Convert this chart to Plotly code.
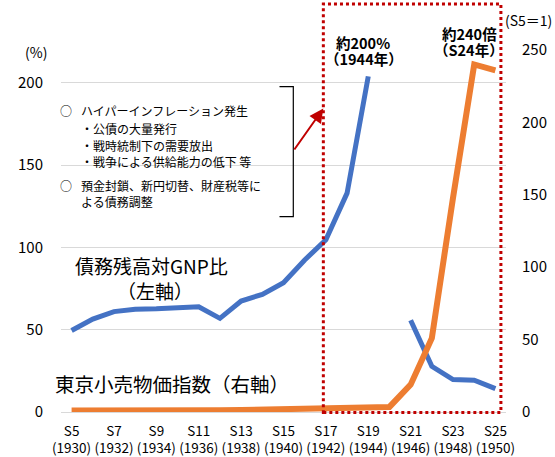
import plotly.graph_objects as go

# 昭和5年(1930)〜昭和25年(1950)
years = list(range(1930, 1951))
tick_years = list(range(1930, 1951, 2))
tick_labels = [f"S{y - 1925}<br>({y})" for y in tick_years]

# 債務残高対GNP比（%、左軸） 1945年は欠測
debt_gnp = [49.5, 56.5, 61.0, 62.5, 62.7, 63.2, 63.9, 56.9, 67.4, 71.5, 78.6,
            92.4, 104.6, 133.0, 204.0, None, 55.8, 27.8, 19.7, 19.3, 14.2]

# 東京小売物価指数（S5=1、右軸）
tokyo_cpi = [1.0, 0.9, 0.95, 1.05, 1.05, 1.1, 1.15, 1.25, 1.35, 1.55, 1.75,
             1.85, 2.0, 2.2, 2.5, 3.5, 18.9, 51.0, 148.0, 240.0, 236.0]

left_ticks = [0, 50, 100, 150, 200]
right_ticks = [0, 50, 100, 150, 200, 250]

W, H = 555, 457
ML, MR, MT, MB = 61, 49, 50, 45
PW, PH = W - ML - MR, H - MT - MB

FONT = "Noto Sans CJK JP"


def px(x):
    return (x - ML) / PW


def py(y):
    return (H - MB - y) / PH


fig = go.Figure()

fig.add_trace(go.Scatter(
    x=years, y=debt_gnp, mode="lines", connectgaps=False,
    line=dict(color="#4472C4", width=5), yaxis="y", showlegend=False,
))
fig.add_trace(go.Scatter(
    x=years, y=tokyo_cpi, mode="lines",
    line=dict(color="#ED7D31", width=6), yaxis="y2", showlegend=False,
))

ann = []


def text(s, x, y, size, anchor="center", bold=False):
    ann.append(dict(
        x=px(x), y=py(y), xref="paper", yref="paper", text=f"<b>{s}</b>" if bold else s,
        showarrow=False, xanchor=anchor, yanchor="middle",
        font=dict(family=FONT, size=size, color="#000000"),
    ))


text("(%)", 36, 52.5, 14)
text("(S5＝1)", 503, 20, 14, anchor="left")
text("約200%", 363, 42.7, 14.5, bold=True)
text("（1944年）", 364, 58.3, 14.5, bold=True)
text("約240倍", 469.5, 33.3, 14.5, bold=True)
text("（S24年）", 469, 49.3, 14.5, bold=True)
text("債務残高対GNP比", 73, 265, 19, anchor="left")
text("（左軸）", 155, 290, 19)
text("東京小売物価指数（右軸）", 53, 383, 19.5, anchor="left")

# 注記
text("○", 66, 110, 12)
text("ハイパーインフレーション発生", 79, 110, 12, anchor="left")
text("・公債の大量発行", 79, 128, 12, anchor="left")
text("・戦時統制下の需要放出", 79, 145, 12, anchor="left")
text("・戦争による供給能力の低下 等", 79, 161, 12, anchor="left")
text("○", 66, 185.5, 12)
text("預金封鎖、新円切替、財産税等に", 79, 185.5, 12, anchor="left")
text("よる債務調整", 79, 201, 12, anchor="left")

# 注記から枠への矢印
ann.append(dict(
    x=px(323.3), y=py(108.5), xref="paper", yref="paper",
    ax=-30, ay=42.5, axref="pixel", ayref="pixel",
    showarrow=True, arrowhead=2, arrowsize=1.4, arrowwidth=2,
    arrowcolor="#C00000", text="",
))

shapes = [
    # 注記の括弧
    dict(type="path", xref="paper", yref="paper",
         path=(f"M {px(279.5)} {py(86.7)} L {px(293.3)} {py(86.7)} "
               f"L {px(293.3)} {py(216.7)} L {px(279.5)} {py(216.7)}"),
         line=dict(color="#000000", width=1.2)),
    # 戦中・戦後期の枠
    dict(type="rect", xref="x", yref="paper",
         x0=1941.88, x1=1950.26, y0=py(412.5), y1=py(4),
         line=dict(color="#C00000", width=3, dash="dot")),
]

fig.update_layout(
    width=W, height=H,
    margin=dict(l=ML, r=MR, t=MT, b=MB, pad=0, autoexpand=False),
    paper_bgcolor="#FFFFFF", plot_bgcolor="#FFFFFF",
    font=dict(family=FONT, size=14, color="#000000"),
    xaxis=dict(
        range=[1929.5, 1950.5], tickmode="array", tickvals=tick_years,
        ticktext=tick_labels, showgrid=False, zeroline=False, showline=False,
        ticks="", tickfont=dict(size=13.5), ticklabelstandoff=9,
        automargin=False,
    ),
    yaxis=dict(
        range=[0, 220], tickmode="array", tickvals=left_ticks,
        showgrid=True, gridcolor="#D9D9D9", gridwidth=1.3,
        zeroline=True, zerolinecolor="#D9D9D9", zerolinewidth=1.3,
        showline=False, ticks="", tickfont=dict(size=15), ticklabelstandoff=17,
        automargin=False,
    ),
    yaxis2=dict(
        range=[0, 250], tickmode="array", tickvals=right_ticks,
        overlaying="y", side="right", showgrid=False, zeroline=False,
        showline=False, ticks="", tickfont=dict(size=15), ticklabelstandoff=15,
        automargin=False,
    ),
    annotations=ann,
    shapes=shapes,
)

fig.write_html("out.html")
